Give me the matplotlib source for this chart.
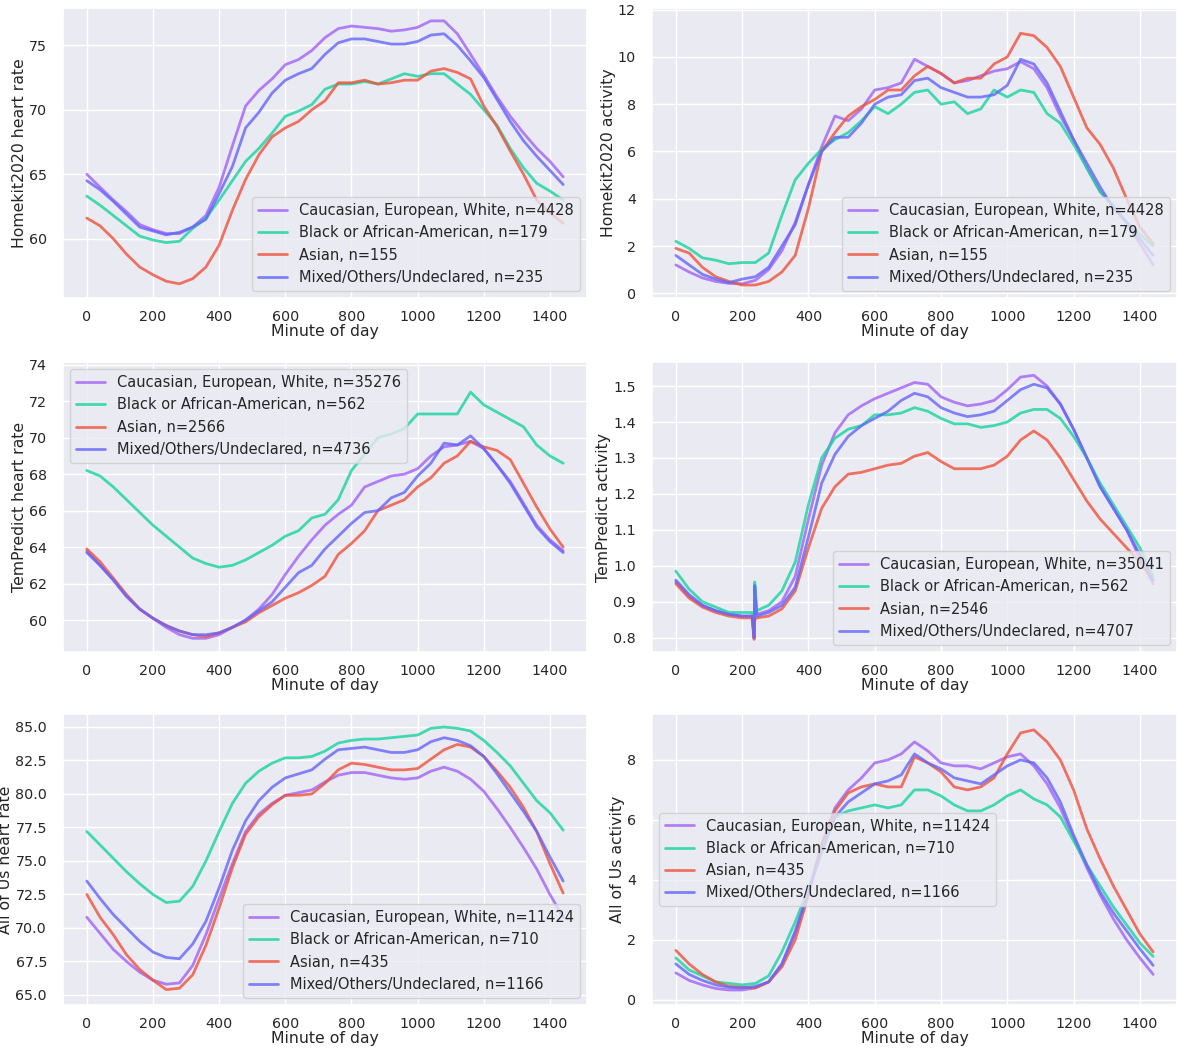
import matplotlib
matplotlib.use("Agg")
import matplotlib.pyplot as plt
import seaborn as sns

sns.set_theme(style="darkgrid")
plt.rcParams['font.family'] = ['DejaVu Sans']

# minute grid (every 40 min)
minute = list(range(0, 1441, 40))
# TemPredict activity has a glitch around minute 236
minute_tpa = [0, 40, 80, 120, 160, 200, 230, 236, 238, 244, 280, 320, 360, 400, 440, 480, 520, 560, 600,
              640, 680, 720, 760, 800, 840, 880, 920, 960, 1000, 1040, 1080, 1120, 1160, 1200, 1240,
              1280, 1320, 1360, 1400, 1440]

groups = ['Caucasian, European, White', 'Black or African-American', 'Asian', 'Mixed/Others/Undeclared']

# Homekit2020 heart rate
hk_hr_white = [65.0, 64.0, 63.0, 62.1, 61.1, 60.7, 60.4, 60.4, 60.9, 61.8, 64.0, 67.2, 70.3, 71.5, 72.4,
               73.5, 73.9, 74.6, 75.6, 76.3, 76.5, 76.4, 76.3, 76.1, 76.2, 76.4, 76.9, 76.9, 75.9, 74.3,
               72.7, 71.0, 69.5, 68.2, 67.0, 66.0, 64.8]
hk_hr_black = [63.3, 62.6, 61.8, 61.0, 60.2, 59.9, 59.7, 59.8, 60.8, 61.6, 63.0, 64.5, 66.0, 67.0, 68.2,
               69.5, 69.9, 70.4, 71.6, 72.0, 72.0, 72.2, 72.0, 72.4, 72.8, 72.6, 72.8, 72.8, 72.0, 71.2,
               70.0, 68.8, 67.0, 65.5, 64.3, 63.7, 63.0]
hk_hr_asian = [61.6, 61.0, 60.0, 58.8, 57.8, 57.2, 56.7, 56.5, 56.9, 57.8, 59.5, 62.2, 64.6, 66.5, 67.9,
               68.6, 69.1, 70.0, 70.7, 72.1, 72.1, 72.3, 72.0, 72.1, 72.3, 72.3, 73.0, 73.2, 72.9, 72.4,
               70.3, 68.7, 66.8, 65.0, 63.0, 62.0, 61.2]
hk_hr_mixed = [64.5, 63.8, 62.9, 61.9, 60.9, 60.6, 60.3, 60.5, 60.9, 61.5, 63.5, 65.6, 68.6, 69.8, 71.3,
               72.3, 72.8, 73.2, 74.3, 75.2, 75.5, 75.5, 75.3, 75.1, 75.1, 75.3, 75.8, 75.9, 75.0, 73.8,
               72.5, 70.8, 69.1, 67.6, 66.4, 65.3, 64.2]
hk_hr_n = [4428, 179, 155, 235]

# Homekit2020 activity
hk_act_white = [1.2, 0.9, 0.65, 0.5, 0.42, 0.4, 0.55, 1.0, 1.8, 3.0, 4.6, 6.2, 7.5, 7.3, 7.8, 8.6, 8.7,
                8.9, 9.9, 9.6, 9.3, 8.9, 9.0, 9.2, 9.4, 9.5, 9.8, 9.5, 8.7, 7.5, 6.5, 5.3, 4.3, 3.7, 3.0,
                2.1, 1.2]
hk_act_black = [2.2, 1.9, 1.5, 1.4, 1.25, 1.3, 1.3, 1.7, 3.3, 4.8, 5.5, 6.1, 6.5, 6.8, 7.3, 7.9, 7.6,
                8.0, 8.5, 8.6, 8.0, 8.1, 7.6, 7.8, 8.6, 8.3, 8.6, 8.5, 7.6, 7.2, 6.3, 5.3, 4.3, 3.7, 3.0,
                2.5, 2.0]
hk_act_asian = [1.9, 1.7, 1.1, 0.7, 0.5, 0.35, 0.35, 0.5, 0.9, 1.6, 3.6, 6.0, 6.8, 7.5, 7.9, 8.2, 8.6,
                8.6, 9.2, 9.6, 9.3, 8.9, 9.1, 9.1, 9.7, 10.0, 11.0, 10.9, 10.4, 9.6, 8.3, 7.0, 6.3, 5.3,
                4.0, 2.8, 2.1]
hk_act_mixed = [1.6, 1.2, 0.8, 0.6, 0.45, 0.6, 0.7, 1.1, 2.0, 2.9, 4.6, 6.0, 6.6, 6.6, 7.2, 8.0, 8.3,
                8.4, 9.0, 9.1, 8.7, 8.5, 8.3, 8.3, 8.4, 8.8, 9.9, 9.7, 8.9, 7.7, 6.5, 5.5, 4.5, 3.6, 3.0,
                2.3, 1.6]
hk_act_n = [4428, 179, 155, 235]

# TemPredict heart rate
tp_hr_white = [63.8, 63.0, 62.2, 61.3, 60.6, 60.1, 59.6, 59.2, 59.0, 59.0, 59.2, 59.6, 60.0, 60.6, 61.4,
               62.5, 63.5, 64.4, 65.2, 65.8, 66.3, 67.3, 67.6, 67.9, 68.0, 68.3, 69.0, 69.5, 69.6, 69.8,
               69.4, 68.5, 67.6, 66.4, 65.2, 64.4, 63.8]
tp_hr_black = [68.2, 67.9, 67.3, 66.6, 65.9, 65.2, 64.6, 64.0, 63.4, 63.1, 62.9, 63.0, 63.3, 63.7, 64.1,
               64.6, 64.9, 65.6, 65.8, 66.6, 68.2, 69.1, 70.0, 70.2, 70.5, 71.3, 71.3, 71.3, 71.3, 72.5,
               71.8, 71.4, 71.0, 70.6, 69.6, 69.0, 68.6]
tp_hr_asian = [63.9, 63.2, 62.3, 61.4, 60.6, 60.1, 59.7, 59.4, 59.2, 59.1, 59.3, 59.6, 59.9, 60.4, 60.8,
               61.2, 61.5, 61.9, 62.4, 63.6, 64.2, 64.9, 66.0, 66.3, 66.6, 67.3, 67.8, 68.6, 69.0, 69.8,
               69.5, 69.3, 68.8, 67.5, 66.2, 65.0, 64.0]
tp_hr_mixed = [63.7, 63.0, 62.2, 61.3, 60.6, 60.1, 59.7, 59.4, 59.2, 59.2, 59.3, 59.6, 60.0, 60.5, 61.0,
               61.8, 62.6, 63.0, 63.9, 64.6, 65.3, 65.9, 66.0, 66.7, 67.0, 67.9, 68.6, 69.7, 69.6, 70.1,
               69.4, 68.5, 67.5, 66.3, 65.1, 64.3, 63.7]
tp_hr_n = [35276, 562, 2566, 4736]

# TemPredict activity
tp_act_white = [0.955, 0.915, 0.89, 0.875, 0.865, 0.86, 0.86, 0.80, 0.94, 0.865, 0.875, 0.90, 0.97, 1.13,
                1.28, 1.37, 1.42, 1.445, 1.465, 1.48, 1.495, 1.51, 1.505, 1.47, 1.455, 1.445, 1.45, 1.46,
                1.49, 1.525, 1.53, 1.50, 1.45, 1.38, 1.30, 1.22, 1.16, 1.10, 1.02, 0.95]
tp_act_black = [0.985, 0.935, 0.90, 0.885, 0.87, 0.87, 0.87, 0.81, 0.955, 0.875, 0.89, 0.93, 1.01, 1.17,
                1.30, 1.355, 1.38, 1.39, 1.42, 1.42, 1.425, 1.44, 1.43, 1.41, 1.395, 1.395, 1.385, 1.39,
                1.40, 1.425, 1.435, 1.435, 1.41, 1.36, 1.30, 1.23, 1.17, 1.11, 1.05, 0.97]
tp_act_asian = [0.95, 0.91, 0.885, 0.87, 0.86, 0.855, 0.855, 0.795, 0.85, 0.855, 0.86, 0.88, 0.93, 1.05,
                1.16, 1.22, 1.255, 1.26, 1.27, 1.28, 1.285, 1.305, 1.315, 1.29, 1.27, 1.27, 1.27, 1.28,
                1.305, 1.35, 1.375, 1.35, 1.30, 1.24, 1.18, 1.13, 1.09, 1.05, 1.01, 0.96]
tp_act_mixed = [0.96, 0.92, 0.89, 0.875, 0.865, 0.86, 0.86, 0.80, 0.945, 0.86, 0.87, 0.89, 0.94, 1.08,
                1.23, 1.31, 1.36, 1.39, 1.41, 1.43, 1.46, 1.48, 1.47, 1.44, 1.425, 1.415, 1.42, 1.43,
                1.46, 1.49, 1.505, 1.495, 1.45, 1.38, 1.30, 1.22, 1.16, 1.10, 1.03, 0.96]
tp_act_n = [35041, 562, 2546, 4707]

# All of Us heart rate
au_hr_white = [70.8, 69.6, 68.4, 67.5, 66.7, 66.1, 65.8, 65.9, 67.2, 69.5, 72.2, 74.8, 77.2, 78.5, 79.3,
               79.9, 80.1, 80.3, 80.9, 81.4, 81.6, 81.6, 81.4, 81.2, 81.1, 81.2, 81.7, 82.0, 81.7, 81.1,
               80.2, 78.9, 77.5, 76.0, 74.4, 72.5, 70.8]
au_hr_black = [77.2, 76.2, 75.2, 74.2, 73.3, 72.5, 71.9, 72.0, 73.1, 75.0, 77.2, 79.3, 80.8, 81.7, 82.3,
               82.7, 82.7, 82.8, 83.2, 83.8, 84.0, 84.1, 84.1, 84.2, 84.3, 84.4, 84.9, 85.0, 84.9, 84.7,
               84.0, 83.1, 82.1, 80.8, 79.5, 78.6, 77.3]
au_hr_asian = [72.5, 70.8, 69.5, 68.0, 66.9, 66.1, 65.4, 65.5, 66.5, 68.7, 71.5, 74.5, 77.0, 78.3, 79.2,
               79.9, 79.9, 80.0, 80.8, 81.8, 82.3, 82.2, 82.0, 81.8, 81.8, 81.9, 82.6, 83.3, 83.7, 83.5,
               82.8, 81.7, 80.5, 79.0, 77.2, 74.8, 72.6]
au_hr_mixed = [73.5, 72.2, 71.0, 70.0, 69.0, 68.2, 67.8, 67.7, 68.8, 70.5, 73.0, 75.8, 78.0, 79.5, 80.5,
               81.2, 81.5, 81.8, 82.6, 83.3, 83.4, 83.5, 83.3, 83.1, 83.1, 83.3, 83.9, 84.2, 84.0, 83.6,
               82.8, 81.5, 80.1, 78.7, 77.2, 75.3, 73.5]
au_hr_n = [11424, 710, 435, 1166]

# All of Us activity
au_act_white = [0.9, 0.65, 0.5, 0.38, 0.33, 0.33, 0.4, 0.6, 1.2, 2.2, 3.6, 5.2, 6.4, 7.0, 7.4, 7.9, 8.0,
                8.2, 8.6, 8.3, 7.9, 7.8, 7.8, 7.7, 7.9, 8.1, 8.2, 7.8, 7.2, 6.4, 5.4, 4.4, 3.5, 2.7, 2.0,
                1.4, 0.85]
au_act_black = [1.4, 1.0, 0.8, 0.6, 0.55, 0.5, 0.55, 0.8, 1.6, 2.6, 3.7, 4.9, 6.1, 6.3, 6.4, 6.5, 6.4,
                6.5, 7.0, 7.0, 6.8, 6.5, 6.3, 6.3, 6.5, 6.8, 7.0, 6.7, 6.5, 6.1, 5.3, 4.5, 3.8, 3.1, 2.5,
                1.9, 1.45]
au_act_asian = [1.65, 1.2, 0.85, 0.6, 0.45, 0.42, 0.4, 0.6, 1.1, 2.0, 3.5, 5.2, 6.3, 6.9, 7.1, 7.2, 7.1,
                7.1, 8.1, 7.9, 7.6, 7.1, 7.0, 7.1, 7.4, 8.2, 8.9, 9.0, 8.6, 8.0, 7.0, 5.7, 4.7, 3.8, 3.0,
                2.2, 1.6]
au_act_mixed = [1.2, 0.85, 0.65, 0.5, 0.42, 0.4, 0.45, 0.6, 1.2, 2.3, 3.6, 5.0, 6.1, 6.6, 6.9, 7.2, 7.3,
                7.5, 8.2, 7.9, 7.7, 7.4, 7.3, 7.2, 7.5, 7.8, 8.0, 7.9, 7.4, 6.6, 5.5, 4.5, 3.6, 2.9, 2.3,
                1.7, 1.15]
au_act_n = [11424, 710, 435, 1166]

colors = ['#a162f6', '#16d4a0', '#ef523c', '#6565fa']

W, H = 1177, 1048
fig = plt.figure(figsize=(W / 100, H / 100), dpi=100)

# (x, series, counts, ylabel, legend loc, yticks, ylim, axes box in pixels: left, top, right, bottom)
panels = [
    (minute, [hk_hr_white, hk_hr_black, hk_hr_asian, hk_hr_mixed], hk_hr_n, 'Homekit2020 heart rate',
     'lower right', [60, 65, 70, 75], (55.4, 77.9), (63, 8, 587, 298)),
    (minute, [hk_act_white, hk_act_black, hk_act_asian, hk_act_mixed], hk_act_n, 'Homekit2020 activity',
     'lower right', [0, 2, 4, 6, 8, 10, 12], (-0.2, 12.07), (652, 8, 1177, 298)),
    (minute, [tp_hr_white, tp_hr_black, tp_hr_asian, tp_hr_mixed], tp_hr_n, 'TemPredict heart rate',
     'upper left', [60, 62, 64, 66, 68, 70, 72, 74], (58.25, 74.15), (63, 362, 587, 652)),
    (minute_tpa, [tp_act_white, tp_act_black, tp_act_asian, tp_act_mixed], tp_act_n, 'TemPredict activity',
     'lower right', [0.8, 0.9, 1.0, 1.1, 1.2, 1.3, 1.4, 1.5], (0.76, 1.567), (652, 362, 1177, 652)),
    (minute, [au_hr_white, au_hr_black, au_hr_asian, au_hr_mixed], au_hr_n, 'All of Us heart rate',
     'lower right', [65, 67.5, 70, 72.5, 75, 77.5, 80, 82.5, 85], (64.25, 85.97), (63, 714, 587, 1005)),
    (minute, [au_act_white, au_act_black, au_act_asian, au_act_mixed], au_act_n, 'All of Us activity',
     'center left', [0, 2, 4, 6, 8], (-0.17, 9.53), (652, 714, 1177, 1005)),
]

for xs, series, counts, ylab, loc, yt, yl, box in panels:
    l, t, r, b = box
    ax = fig.add_axes([l / W, 1 - b / H, (r - l) / W, (b - t) / H])
    for ys, g, n, c in zip(series, groups, counts, colors):
        ax.plot(xs, ys, color=c, alpha=0.8, lw=2.0, label=f'{g}, n={n}')
    ax.set_xticks([0, 200, 400, 600, 800, 1000, 1200, 1400])
    ax.set_yticks(yt)
    ax.set_ylim(*yl)
    if yt[1] == 67.5:
        ax.set_yticklabels([f'{v:.1f}' for v in yt])
    ax.tick_params(axis='x', labelsize=10.3, pad=2.8)
    ax.tick_params(axis='y', labelsize=10.3, pad=5.5)
    ax.set_xlabel('Minute of day', fontsize=11.3, labelpad=0)
    ax.set_ylabel(ylab, fontsize=11.3, labelpad=1.5)
    ax.legend(loc=loc, fontsize=10.5)

fig.savefig('out.png', dpi=100)
